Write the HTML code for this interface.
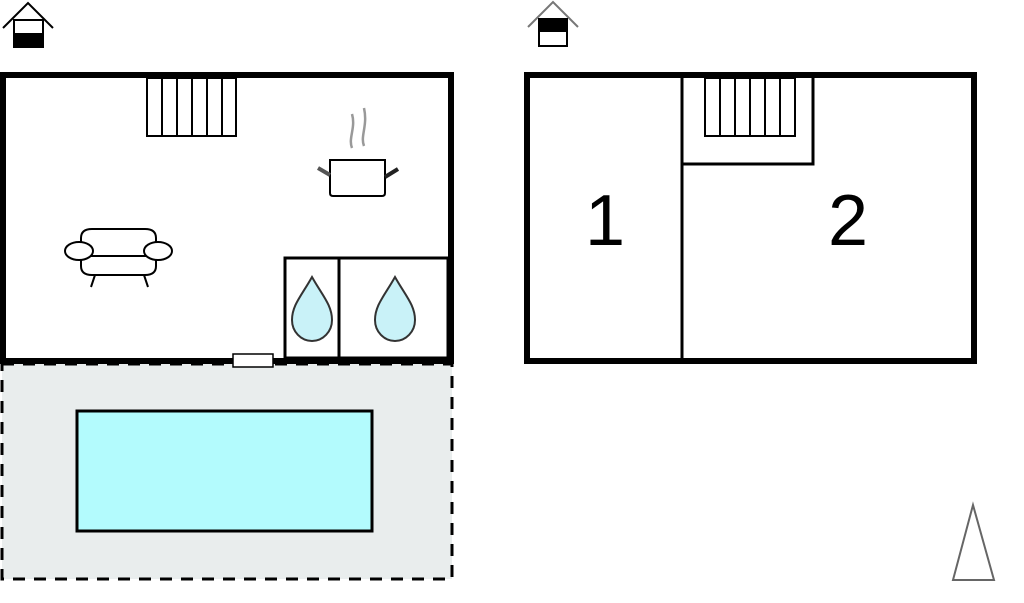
<!DOCTYPE html>
<html><head><meta charset="utf-8"><style>html,body{margin:0;padding:0;background:#fff;width:1024px;height:603px;overflow:hidden}</style></head>
<body>
<svg width="1024" height="603" viewBox="0 0 1024 603" xmlns="http://www.w3.org/2000/svg">
<!-- left house icon -->
<polyline points="3,28 28,3 53,28" fill="none" stroke="#000" stroke-width="2"/>
<rect x="14" y="20" width="29" height="27" fill="#fff" stroke="#000" stroke-width="2"/>
<rect x="14" y="33" width="29" height="14" fill="#000"/>
<!-- right house icon -->
<polyline points="528,27 553,2 578,27" fill="none" stroke="#777" stroke-width="2"/>
<rect x="539" y="19" width="28" height="27" fill="#fff" stroke="#000" stroke-width="2"/>
<rect x="539" y="19" width="28" height="13" fill="#000"/>

<!-- pool area -->
<rect x="2" y="364" width="450" height="215" fill="#e9eded" stroke="#000" stroke-width="3" stroke-dasharray="12,9"/>
<rect x="77" y="411" width="295" height="120" fill="#b3fbfd" stroke="#000" stroke-width="3"/>

<!-- left building -->
<rect x="3" y="75" width="448" height="286" fill="#fff" stroke="#000" stroke-width="6"/>
<!-- stairs -->
<rect x="147" y="78" width="89" height="58" fill="#fff" stroke="#000" stroke-width="2"/>
<g stroke="#000" stroke-width="2">
<line x1="162" y1="78" x2="162" y2="136"/><line x1="177" y1="78" x2="177" y2="136"/>
<line x1="192" y1="78" x2="192" y2="136"/><line x1="207" y1="78" x2="207" y2="136"/>
<line x1="222" y1="78" x2="222" y2="136"/>
</g>
<!-- pot -->
<path d="M352,148 C348,138 356,128 352,114 M364,146 C360,136 368,126 364,108" fill="none" stroke="#999" stroke-width="2.5"/>
<path d="M330,160 H385 V193 Q385,196 382,196 H333 Q330,196 330,193 Z" fill="#fff" stroke="#000" stroke-width="2"/>
<line x1="318" y1="168" x2="330" y2="175" stroke="#555" stroke-width="4"/>
<line x1="385" y1="177" x2="398" y2="169" stroke="#222" stroke-width="4"/>
<!-- sofa -->
<g fill="#fff" stroke="#000" stroke-width="2">
<line x1="95" y1="275" x2="91" y2="287"/><line x1="144" y1="275" x2="148" y2="287"/>
<path d="M81,251 V238 Q81,229 92,229 H145 Q156,229 156,238 V251"/>
<path d="M81,256 V266 Q81,275 92,275 H145 Q156,275 156,266 V256"/>
<line x1="90" y1="256" x2="148" y2="256"/>
<ellipse cx="79" cy="251" rx="14" ry="9"/>
<ellipse cx="158" cy="251" rx="14" ry="9"/>
</g>
<!-- bathrooms -->
<rect x="285" y="258" width="163" height="100" fill="#fff" stroke="#000" stroke-width="3"/>
<line x1="339" y1="258" x2="339" y2="358" stroke="#000" stroke-width="3"/>
<path d="M312,277 C302,295 292,305 292,320 A20,21 0 0 0 332,320 C332,305 322,295 312,277 Z" fill="#c9f2f8" stroke="#333" stroke-width="2"/>
<path d="M395,277 C385,295 375,305 375,320 A20,21 0 0 0 415,320 C415,305 405,295 395,277 Z" fill="#c9f2f8" stroke="#333" stroke-width="2"/>
<!-- door -->
<rect x="233" y="354" width="40" height="13" fill="#fff" stroke="#000" stroke-width="1.5"/>

<!-- right building -->
<rect x="527" y="75" width="447" height="286" fill="#fff" stroke="#000" stroke-width="6"/>
<line x1="682" y1="78" x2="682" y2="358" stroke="#000" stroke-width="3"/>
<polyline points="682,164 813,164 813,78" fill="none" stroke="#000" stroke-width="3"/>
<rect x="705" y="78" width="90" height="58" fill="#fff" stroke="#000" stroke-width="2"/>
<g stroke="#000" stroke-width="2">
<line x1="720" y1="78" x2="720" y2="136"/><line x1="735" y1="78" x2="735" y2="136"/>
<line x1="750" y1="78" x2="750" y2="136"/><line x1="765" y1="78" x2="765" y2="136"/>
<line x1="780" y1="78" x2="780" y2="136"/>
</g>
<text x="605" y="245" font-family="Liberation Sans, sans-serif" font-size="72" text-anchor="middle" fill="#000">1</text>
<text x="848" y="245" font-family="Liberation Sans, sans-serif" font-size="72" text-anchor="middle" fill="#000">2</text>

<!-- north arrow -->
<polygon points="973,505 994,580 953,580" fill="#fff" stroke="#666" stroke-width="2"/>
</svg>
</body></html>
